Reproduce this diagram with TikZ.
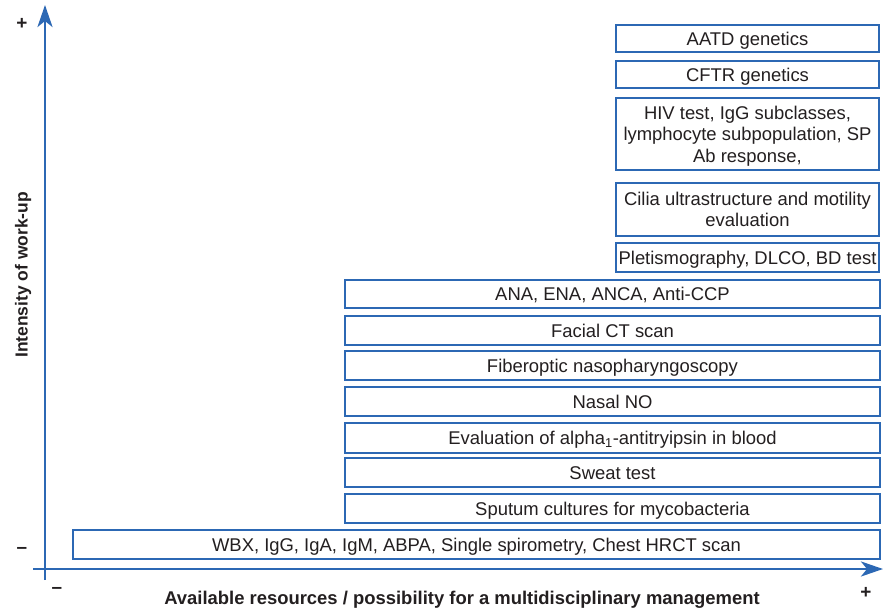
\documentclass[tikz,border=0pt]{standalone}
\usepackage{fontspec}
\setmainfont{Liberation Sans}
\usetikzlibrary{arrows.meta}
\definecolor{axisblue}{RGB}{44,104,180}
\definecolor{inkgray}{RGB}{35,31,32}
\begin{document}
\begin{tikzpicture}[x=1bp,y=-1bp,
  testbox/.style={draw=axisblue, line width=2.6bp, fill=white, inner sep=0pt,
    font=\fontsize{18.5}{21.5}\selectfont, text=inkgray, align=center,
    text height=13.2bp, text depth=0bp},
  twolines/.style={text height=34.7bp},
  threelines/.style={text height=56.2bp},
  axisline/.style={draw=axisblue, line width=2.8bp},
  tick/.style={font=\fontsize{19}{20}\selectfont\bfseries, text=inkgray}]
\useasboundingbox (0,0) rectangle (883,612);

% axes
\coordinate (yfoot) at (45,580);
\coordinate (ytip) at (45,5);
\coordinate (xfoot) at (33,569);
\coordinate (xtip) at (883,569);
\draw[axisline, -{Stealth[length=22bp,width=15bp,inset=6bp]}] (yfoot) -- (ytip);
\draw[axisline, -{Stealth[length=22bp,width=15bp,inset=6bp]}] (xfoot) -- (xtip);

% axis end marks
\node[tick] (yplus) at (22,24) {+};
\node[tick] (yminus) at (22,550) {–};
\node[tick] (xminus) at (57,590) {–};
\node[tick] (xplus) at (866,593) {+};

% axis titles
\node[font=\fontsize{17.5}{20}\selectfont\bfseries, text=inkgray, rotate=90] (ytitle) at (23,275) {Intensity of work-up};
\node[font=\fontsize{18.5}{20}\selectfont\bfseries, text=inkgray] (xtitle) at (462,600) {Available resources / possibility for a multidisciplinary management};

% basic work-up
\node[testbox, minimum width=807bp, minimum height=29bp] (wbx) at (476.5,544.5)
  {WBX, IgG, IgA, IgM, ABPA, Single spirometry, Chest HRCT scan};

% intermediate work-up
\node[testbox, minimum width=535bp, minimum height=29bp] (sputum) at (612.5,508.5) {Sputum cultures for mycobacteria};
\node[testbox, minimum width=535bp, minimum height=29bp] (sweat) at (612.5,472.5) {Sweat test};
\node[testbox, minimum width=535bp, minimum height=30bp] (alpha) at (612.5,438) {Evaluation of alpha\textsubscript{1}-antitryipsin in blood};
\node[testbox, minimum width=535bp, minimum height=29bp] (nasal) at (612.5,401.5) {Nasal NO};
\node[testbox, minimum width=535bp, minimum height=29bp] (fiber) at (612.5,365.5) {Fiberoptic nasopharyngoscopy};
\node[testbox, minimum width=535bp, minimum height=29bp] (facial) at (612.5,330.5) {Facial CT scan};
\node[testbox, minimum width=535bp, minimum height=28bp] (ana) at (612.5,294) {ANA, ENA, ANCA, Anti-CCP};

% advanced work-up
\node[testbox, minimum width=263bp, minimum height=29bp] (pletis) at (747.5,257.5) {Pletismography, DLCO, BD test};
\node[testbox, twolines, minimum width=263bp, minimum height=53bp] (cilia) at (747.5,209.5) {Cilia ultrastructure and motility\\evaluation};
\node[testbox, threelines, minimum width=263bp, minimum height=72bp] (hiv) at (747.5,134) {HIV test, IgG subclasses,\\lymphocyte subpopulation, SP\\Ab response,};
\node[testbox, minimum width=263bp, minimum height=27bp] (cftr) at (747.5,74.5) {CFTR genetics};
\node[testbox, minimum width=263bp, minimum height=27bp] (aatd) at (747.5,38.5) {AATD genetics};
\end{tikzpicture}
\end{document}
